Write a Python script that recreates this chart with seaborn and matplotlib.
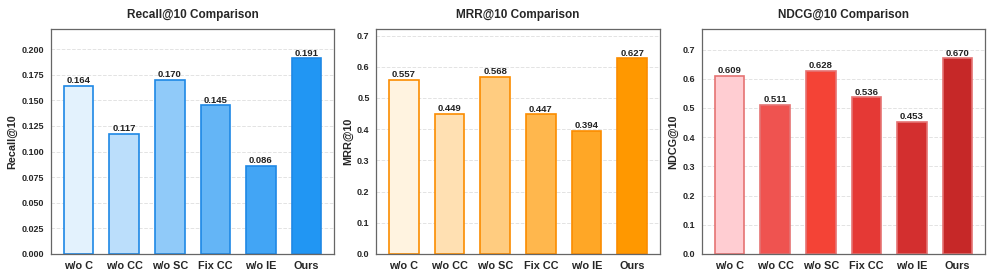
import pandas as pd
import matplotlib.pyplot as plt
import seaborn as sns

# ---------------------------------
# DATA
# ---------------------------------

variants = ["w/o C", "w/o CC", "w/o SC", "Fix CC", "w/o IE", "Ours"]

recall_at_10 = [0.164, 0.117, 0.170, 0.145, 0.086, 0.191]
mrr_at_10 = [0.557, 0.449, 0.568, 0.447, 0.394, 0.627]
ndcg_at_10 = [0.609, 0.511, 0.628, 0.536, 0.453, 0.670]

blue_shades = ["#E3F2FD", "#BBDEFB", "#90CAF9", "#64B5F6", "#42A5F5", "#2196F3"]
orange_shades = ["#FFF3E0", "#FFE0B2", "#FFCC80", "#FFB74D", "#FFA726", "#FF9800"]
red_shades = ["#FFCDD2", "#EF5350", "#F44336", "#E53935", "#D32F2F", "#C62828"]

panels = [
    ("Recall@10", recall_at_10, blue_shades, "#1E88E5"),
    ("MRR@10", mrr_at_10, orange_shades, "#FB8C00"),
    ("NDCG@10", ndcg_at_10, red_shades, "#E57373"),
]

# ---------------------------------
# STYLE
# ---------------------------------

sns.set_style("white")
plt.rcParams["font.family"] = ["Liberation Sans", "DejaVu Sans"]
plt.rcParams["font.weight"] = "bold"

fig, axes = plt.subplots(1, 3, figsize=(9.96, 2.73), dpi=100)
fig.subplots_adjust(left=0.0512, right=0.989, top=0.894, bottom=0.0696, wspace=0.15)

# ---------------------------------
# PLOTS
# ---------------------------------

for ax, (metric, values, shades, edge) in zip(axes, panels):
    df = pd.DataFrame({"Variant": variants, metric: values})

    sns.barplot(
        data=df,
        x="Variant",
        y=metric,
        hue="Variant",
        palette=shades,
        saturation=1,
        legend=False,
        width=0.65,
        edgecolor=edge,
        linewidth=1.2,
        ax=ax,
    )

    for container in ax.containers:
        ax.bar_label(container, fmt="%.3f", fontsize=6.8, fontweight="bold",
                     padding=0.5, color="#222222")

    ax.set_ylim(0, max(values) * 1.15)
    ax.set_xlim(-0.6, 5.6)
    ax.set_title(metric + " Comparison", fontsize=8.5, fontweight="bold", pad=8)
    ax.set_xlabel("")
    ax.set_ylabel(metric, fontsize=7.8, fontweight="bold", labelpad=3)
    ax.yaxis.grid(True, linestyle="--", color="#e3e3e3", linewidth=0.7)
    ax.set_axisbelow(True)
    ax.tick_params(axis="both", which="both", length=3, width=0.8, color="#555555", pad=2)
    ax.tick_params(axis="x", labelsize=7.8)
    ax.tick_params(axis="y", labelsize=6.5)
    for lab in ax.get_xticklabels() + ax.get_yticklabels():
        lab.set_fontweight("bold")
    for spine in ax.spines.values():
        spine.set_color("#666666")
        spine.set_linewidth(0.9)

plt.savefig("out.png", dpi=100)
